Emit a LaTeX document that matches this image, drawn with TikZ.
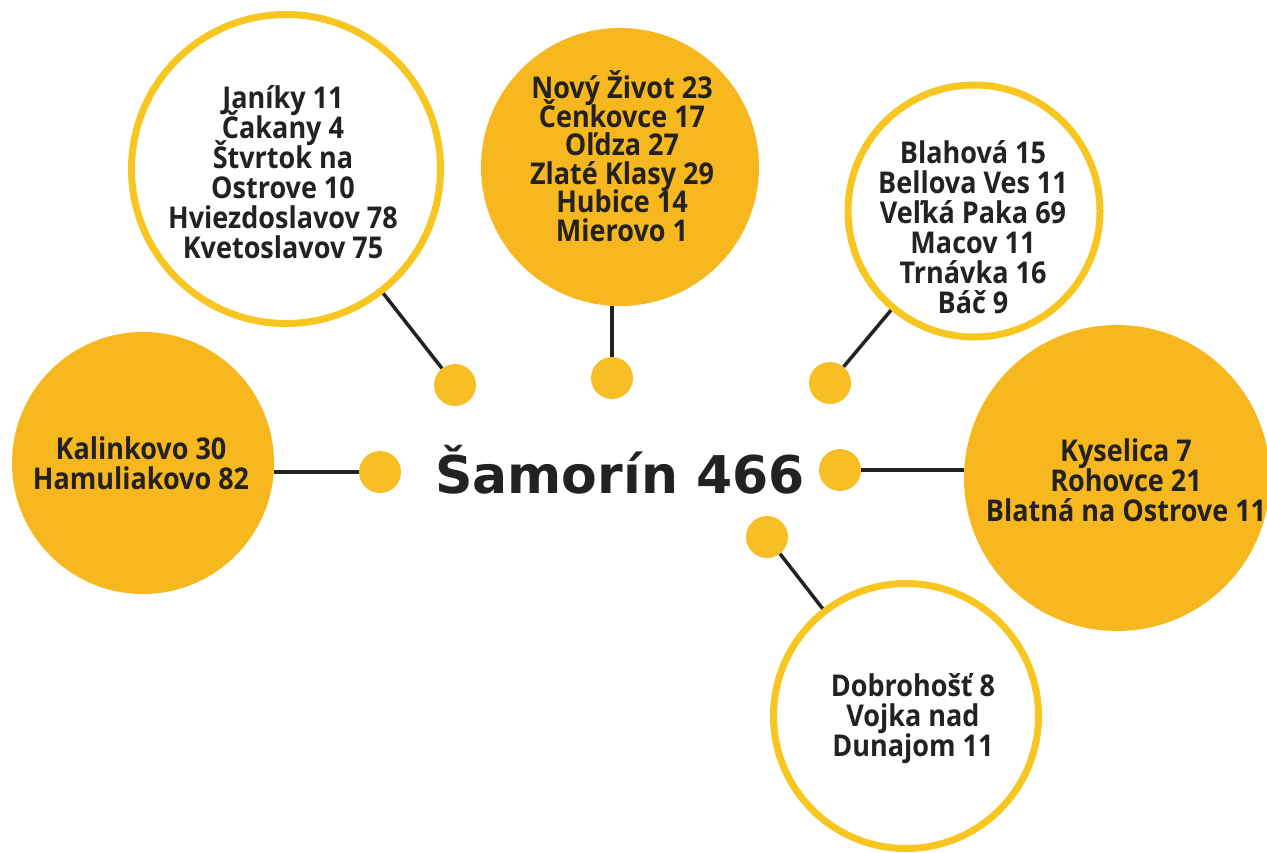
\documentclass[tikz,border=0pt]{standalone}
\usepackage{fontspec}
\setmainfont{Open Sans}[FakeStretch=0.9]
\newfontfamily\titlefont{DejaVu Sans}
\newcommand\myTightLines{\setlength{\lineskiplimit}{-40pt}\setlength{\lineskip}{0pt}}
\definecolor{fillY}{RGB}{246,184,30}
\definecolor{ringY}{RGB}{248,198,32}
\definecolor{dotY}{RGB}{247,190,38}
\definecolor{ink}{RGB}{35,33,34}
\tikzset{
  bigdisc/.style={circle, fill=fillY, inner sep=0pt, minimum size=#1},
  ring/.style={circle, draw=ringY, line width=7pt, fill=white, inner sep=0pt, minimum size=#1},
  knob/.style={circle, fill=dotY, inner sep=0pt, minimum size=42pt},
  label/.style={align=center, text=ink, font=\fontsize{30}{#1}\selectfont\bfseries\myTightLines, inner sep=0pt},
  label/.default=30,
  link/.style={draw=ink, line width=3.5pt}
}
\begin{document}
\begin{tikzpicture}[x=1pt, y=-1pt]
\useasboundingbox (0,0) rectangle (1267,852);
% circles
\node[bigdisc=262pt] (cL) at (143,463) {};
\node[ring=309pt] (cUL) at (286,169) {};
\node[bigdisc=278pt] (cT) at (620,167) {};
\node[ring=252pt] (cUR) at (974,211) {};
\node[bigdisc=306pt] (cR) at (1117,478) {};
\node[ring=265pt] (cB) at (906,716) {};
% dots
\node[knob] (dL) at (380,472) {};
\node[knob] (dUL) at (455,385) {};
\node[knob] (dT) at (612,378) {};
\node[knob] (dUR) at (830,383) {};
\node[knob] (dR) at (840,470) {};
\node[knob] (dB) at (767,537) {};
% connectors
\draw[link] (dL.west) -- (dL -| cL.east);
\draw[link] (dUL) -- (cUL);
\draw[link] (dT.north) -- (dT |- cT.south);
\draw[link] (dUR) -- (cUR);
\draw[link] (dR.east) -- (dR -| cR.west);
\draw[link] (dB) -- (cB);
% texts
\node[label] (tL) at (141,463) {Kalinkovo 30\\Hamuliakovo 82};
\node[label] (tUL) at (283,172) {Janíky 11\\Čakany 4\\Štvrtok na\\Ostrove 10\\Hviezdoslavov 78\\Kvetoslavov 75};
\node[label=28.5] (tT) at (622,156) {Nový Život 23\\Čenkovce 17\\Oľdza 27\\Zlaté Klasy 29\\Hubice 14\\Mierovo 1};
\node[label] (tUR) at (973,227) {Blahová 15\\Bellova Ves 11\\Veľká Paka 69\\Macov 11\\Trnávka 16\\Báč 9};
\node[label] (tR) at (1126,480) {Kyselica 7\\Rohovce 21\\Blatná na Ostrove 11};
\node[label] (tB) at (913,719) {Dobrohošť 8\\Vojka nad\\Dunajom 11};
\node[text=ink, inner sep=0pt, font=\titlefont\fontsize{52}{56}\selectfont\bfseries] (title) at (620,470) {Šamorín 466};
\end{tikzpicture}
\end{document}
